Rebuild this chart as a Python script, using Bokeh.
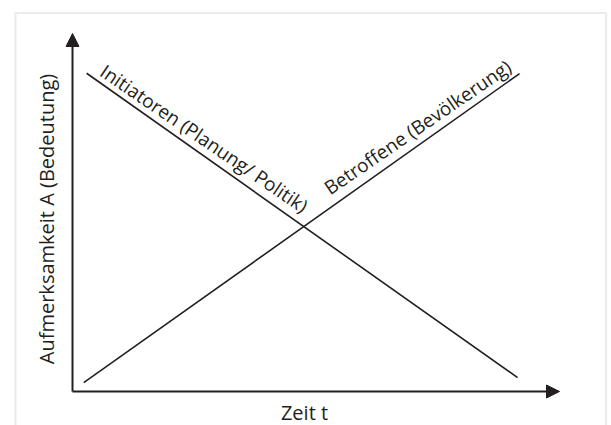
import math
from bokeh.plotting import figure
from bokeh.models import Range1d, Arrow, NormalHead, BoxAnnotation, Label, ColumnDataSource
from bokeh.core.properties import value
from bokeh.embed import file_html
from bokeh.resources import INLINE

# ---- data (axis units 0..100) ----
betroffene_t = [2.3, 91.8]
betroffene_a = [2.5, 88.8]
initiatoren_t = [2.9, 91.4]
initiatoren_a = [88.9, 3.9]

label_betroffene = "Betroffene (Bevölkerung)"
label_initiatoren = "Initiatoren (Planung/ Politik)"
x_title = "Zeit t"
y_title = "Aufmerksamkeit A (Bedeutung)"

# ---- layout ----
W, H = 611, 425
OX, OY = 72, 391          # origin of the axes in canvas pixels
PX_X, PX_Y = 4.87, 3.58   # pixels per data unit
INK = "#231f20"
FONT = "Open Sans"
FS_TITLE = "20px"
FS_LABEL = "19px"
COMP = 7.0                # lift applied to texts (px, along the text's up direction)

x0 = -OX / PX_X
x1 = (W - OX) / PX_X
y1 = OY / PX_Y
y0 = -(H - OY) / PX_Y


def dx_px(px):
    return (px - OX) / PX_X


def dy_px(py):
    return (OY - py) / PX_Y


p = figure(width=W, height=H, output_backend="svg", toolbar_location=None,
           x_range=Range1d(x0, x1), y_range=Range1d(y0, y1),
           x_axis_location=None, y_axis_location=None, min_border=0,
           background_fill_color="white", border_fill_color="white")
p.outline_line_color = None
p.xgrid.visible = False
p.ygrid.visible = False

# grey frame (open at the bottom)
p.add_layout(BoxAnnotation(left=dx_px(15), right=dx_px(605.5),
                           top=dy_px(12.5), bottom=y0 - 10,
                           fill_alpha=0, line_color="#bcbcbc", line_width=2.2))

# axes as arrows
p.add_layout(Arrow(end=NormalHead(size=13, fill_color=INK, line_color=INK),
                   x_start=0, y_start=0, x_end=100, y_end=0,
                   line_color=INK, line_width=2))
p.add_layout(Arrow(end=NormalHead(size=13, fill_color=INK, line_color=INK),
                   x_start=0, y_start=0, x_end=0, y_end=100,
                   line_color=INK, line_width=2))

# the two lines
p.line(betroffene_t, betroffene_a, line_color=INK, line_width=1.6)
p.line(initiatoren_t, initiatoren_a, line_color=INK, line_width=1.6)


def along(ts, as_, frac, dist, text, ang_adj=0.0):
    """anchor a label on the line at fraction frac, lifted dist px above it"""
    dx = (ts[1] - ts[0]) * PX_X
    dy = (as_[1] - as_[0]) * PX_Y
    ang = math.atan2(dy, dx)
    xa = ts[0] + frac * (ts[1] - ts[0])
    ya = as_[0] + frac * (as_[1] - as_[0])
    nx, ny = -math.sin(ang), math.cos(ang)
    xa += nx * (dist + COMP) / PX_X
    ya += ny * (dist + COMP) / PX_Y
    src = ColumnDataSource(dict(x=[xa], y=[ya], t=[text]))
    p.text("x", "y", text="t", source=src, angle=ang + ang_adj,
           text_font=value(FONT), text_font_size=FS_LABEL, text_color=INK,
           text_align="left", text_baseline="alphabetic")


along(initiatoren_t, initiatoren_a, 0.02, 5.5, label_initiatoren, math.radians(0.9))
along(betroffene_t, betroffene_a, 0.579, 10.0, label_betroffene, math.radians(-0.9))

p.add_layout(Label(x=dx_px(304), y=dy_px(419 - COMP), text=x_title,
                   text_font=FONT, text_font_size=FS_TITLE, text_color=INK,
                   text_align="center", text_baseline="alphabetic"))
p.add_layout(Label(x=dx_px(53 - COMP), y=dy_px(218.5), text=y_title,
                   angle=math.pi / 2,
                   text_font=FONT, text_font_size=FS_TITLE, text_color=INK,
                   text_align="center", text_baseline="alphabetic"))

open("out.html", "w").write(file_html(p, INLINE))
